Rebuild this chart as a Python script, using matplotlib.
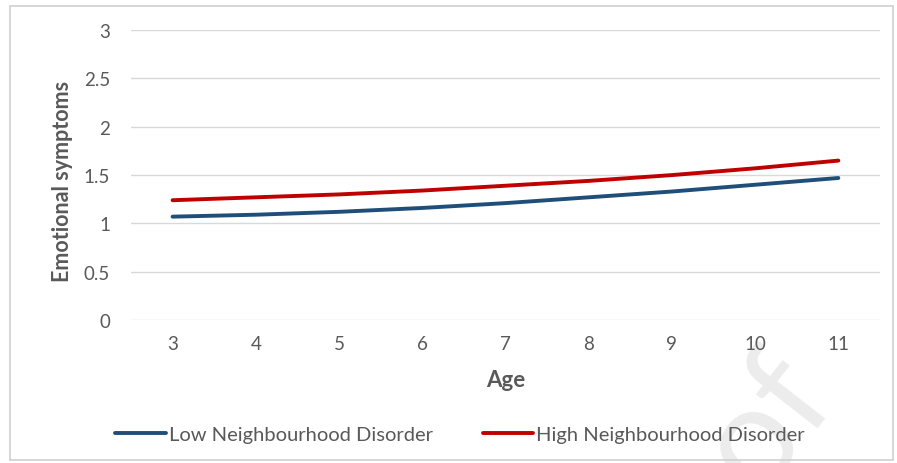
import matplotlib.pyplot as plt
from matplotlib.patches import Rectangle

plt.rcParams['font.family'] = ['Lato', 'DejaVu Sans']

# data
ages = [3, 4, 5, 6, 7, 8, 9, 10, 11]
low_disorder = [1.07, 1.09, 1.12, 1.16, 1.21, 1.27, 1.33, 1.40, 1.47]
high_disorder = [1.24, 1.27, 1.30, 1.34, 1.39, 1.44, 1.50, 1.57, 1.65]
y_ticks = [0, 0.5, 1, 1.5, 2, 2.5, 3]
y_tick_labels = ['0', '0.5', '1', '1.5', '2', '2.5', '3']

fig = plt.figure(figsize=(8.97, 4.64), dpi=100)
ax = fig.add_axes([0.146, 0.308, 0.835, 0.625])

grey = '#595959'
ax.plot(ages, low_disorder, color='#1F4E79', lw=2.8, solid_capstyle='round',
        label='Low Neighbourhood Disorder')
ax.plot(ages, high_disorder, color='#C00000', lw=2.8, solid_capstyle='round',
        label='High Neighbourhood Disorder')

ax.set_xlim(2.5, 11.5)
ax.set_ylim(0, 3)
ax.set_xticks(ages)
ax.set_yticks(y_ticks)
ax.set_yticklabels(y_tick_labels)
ax.tick_params(length=0, labelsize=13.5, colors=grey)
ax.tick_params(axis='x', pad=11)
ax.tick_params(axis='y', pad=15)
ax.grid(axis='y', color='#d9d9d9', lw=1)
ax.set_axisbelow(True)
for s in ax.spines.values():
    s.set_visible(False)

ax.set_xlabel('Age', fontsize=16, fontweight='bold', color=grey, labelpad=12)
ax.set_ylabel('Emotional symptoms', fontsize=15.5, fontweight='bold', color=grey)
ax.yaxis.set_label_coords(-0.078, 0.48)

fig.legend(loc='center', bbox_to_anchor=(0.513, 0.062), ncol=2, frameon=False,
           fontsize=14.5, handlelength=2.5, handletextpad=0.15, columnspacing=2.5,
           labelcolor=grey)

# faint watermark from the source page
fig.text(0.855, 0.09, 'of', fontsize=100, color='#ececec', rotation=52,
         ha='center', va='center', zorder=-1)

fig.patches.append(Rectangle((0.011, 0.006), 0.984, 0.978, transform=fig.transFigure,
                             fill=False, edgecolor='#d0d0d0', lw=1.2))

fig.savefig('out.png', dpi=100)
